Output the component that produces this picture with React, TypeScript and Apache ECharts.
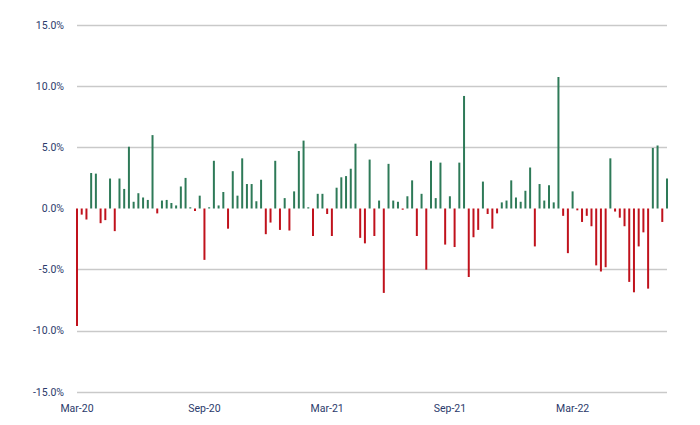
import React, { useEffect, useRef } from "react";
import * as echarts from "echarts";

// Weekly returns (%), one per week from Mar-20 to mid 2022
const weeklyReturns: number[] = [
  -9.6, -0.5, -0.9, 2.9, 2.85, -1.2, -0.95, 2.45, -1.85, 2.45,
  1.6, 5.05, 0.55, 1.25, 0.9, 0.7, 6.0, -0.4, 0.65, 0.7,
  0.45, 0.25, 1.8, 2.5, 0.1, -0.2, 1.05, -4.2, 0.1, 3.9,
  0.25, 1.35, -1.65, 3.05, 1.05, 4.1, 2.0, 2.0, 0.6, 2.35,
  -2.1, -1.15, 3.9, -1.75, 0.85, -1.8, 1.4, 4.7, 5.55, 0.1,
  -2.25, 1.2, 1.2, -0.45, -2.25, 1.7, 2.55, 2.65, 3.25, 5.3,
  -2.4, -2.85, 4.0, -2.25, 0.65, -6.9, 3.65, 0.65, 0.55, -0.1,
  1.0, 2.3, -2.25, 1.2, -5.0, 3.9, 0.85, 3.75, -2.95, 1.0,
  -3.15, 3.75, 9.2, -5.6, -2.35, -1.75, 2.2, -0.45, -1.65, -0.4,
  0.5, 0.65, 2.3, 0.9, 0.55, 1.45, 3.35, -3.1, 2.0, 0.65,
  1.9, 0.5, 10.75, -0.6, -3.65, 1.4, -0.15, -1.1, -0.6, -1.45,
  -4.65, -5.15, -4.8, 4.1, -0.25, -0.75, -1.45, -6.0, -6.85, -3.1,
  -1.95, -6.55, 4.95, 5.15, -1.1, 2.45,
];

// Week index categories
const weekCategories: string[] = weeklyReturns.map((_, i) => String(i));

// Tick labels on the time axis (week index -> label)
const tickWeekIndex: number[] = [0, 27, 53, 79, 105];
const tickLabels: string[] = ["Mar-20", "Sep-20", "Mar-21", "Sep-21", "Mar-22"];

const yTicks: number[] = [-15, -10, -5, 0, 5, 10, 15];

const GREEN = "#2e7a58";
const RED = "#c0121c";
const GRID = "#c9c9c9";
const LABEL = "#2b3a6b";

export default function App() {
  const ref = useRef<HTMLDivElement>(null);

  useEffect(() => {
    if (!ref.current) return;
    const chart = echarts.init(ref.current, null, { renderer: "svg" });
    const labelMap: Record<number, string> = {};
    tickWeekIndex.forEach((idx, k) => {
      labelMap[idx] = tickLabels[k];
    });
    chart.setOption({
      animation: false,
      backgroundColor: "#ffffff",
      grid: { left: 77, right: 33, top: 25, bottom: 33, containLabel: false },
      xAxis: {
        type: "category",
        data: weekCategories,
        boundaryGap: false,
        axisLine: { show: false },
        axisTick: { show: false },
        splitLine: { show: false },
        axisLabel: {
          interval: (index: number) => labelMap[index] !== undefined,
          formatter: (_v: string, index: number) => labelMap[index] ?? "",
          color: LABEL,
          fontFamily: "Roboto, 'Open Sans', sans-serif",
          fontSize: 10.5,
          margin: 11,
        },
      },
      yAxis: {
        type: "value",
        min: -15,
        max: 15,
        interval: 5,
        axisLine: { show: false },
        axisTick: { show: false },
        axisLabel: {
          formatter: (v: number) => v.toFixed(1) + "%",
          color: LABEL,
          fontFamily: "Roboto, 'Open Sans', sans-serif",
          fontSize: 10.5,
          margin: 13,
        },
        splitLine: {
          show: true,
          lineStyle: {
            color: yTicks.map((t) => (t === 0 ? "rgba(0,0,0,0)" : GRID)),
            width: 1.3,
          },
        },
      },
      series: [
        {
          type: "bar",
          data: weeklyReturns,
          barWidth: 2,
          clip: false,
          itemStyle: {
            color: (p: any) => (p.value >= 0 ? GREEN : RED),
          },
        },
      ],
    });
    return () => chart.dispose();
  }, []);

  return <div ref={ref} style={{ width: 700, height: 425, position: "absolute", left: 0, top: 0 }} />;
}
